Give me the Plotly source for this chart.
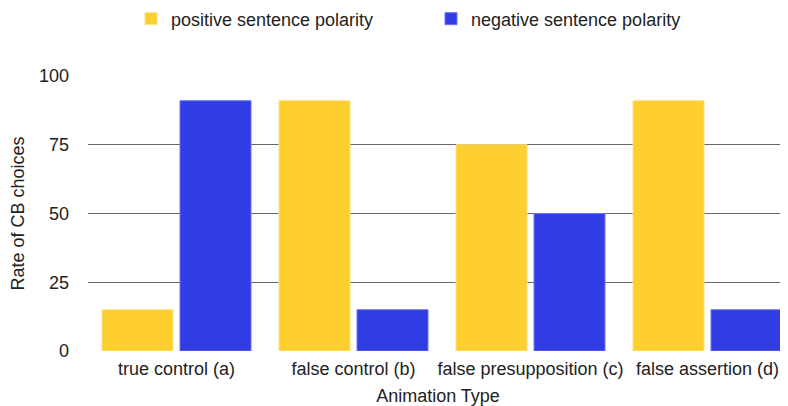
import plotly.graph_objects as go

categories = ["true control (a)", "false control (b)", "false presupposition (c)", "false assertion (d)"]
positive = [15, 91, 75, 91]
negative = [91, 15, 50, 15]
series_names = ["positive sentence polarity", "negative sentence polarity"]
y_ticks = [0, 25, 50, 75, 100]
grid_ticks = [25, 50, 75]

FONT = "Liberation Sans, Arial, Helvetica, sans-serif"

fig = go.Figure()
fig.add_trace(go.Bar(
    x=categories, y=positive, name=series_names[0],
    marker=dict(color="#FECE2F", line=dict(color="#FFE27F", width=1)),
))
fig.add_trace(go.Bar(
    x=categories, y=negative, name=series_names[1],
    marker=dict(color="#303DE5", line=dict(color="#6A74F0", width=1)),
))

# page has an 8px body margin, so figure is 780x398 offset by (8, 8)
fig.update_layout(
    width=780, height=398,
    margin=dict(l=80, r=0, t=68, b=55, autoexpand=False),
    paper_bgcolor="white", plot_bgcolor="white",
    font=dict(family=FONT, size=18, color="#222222"),
    barmode="group", bargap=0.1186, bargroupgap=0.0897,
    showlegend=True,
    legend=dict(
        orientation="h", xref="container", x=123 / 780, xanchor="left",
        yref="container", y=1 - 11 / 398, yanchor="middle",
        font=dict(size=18, color="#222222"),
        entrywidth=255, entrywidthmode="pixels",
        itemclick=False, itemdoubleclick=False,
    ),
    xaxis=dict(
        range=[-0.5, -0.5 + 700 / 177],
        showgrid=False, zeroline=False, showline=False,
        ticks="", ticklabelstandoff=5, tickfont=dict(size=18),
        title=dict(text="Animation Type", font=dict(size=18), standoff=12),
        fixedrange=True, automargin=False,
    ),
    yaxis=dict(
        range=[0, 100], tickvals=y_ticks,
        showgrid=False, zeroline=False, showline=False,
        ticks="", ticklabelstandoff=18, tickfont=dict(size=18),
        minor=dict(tickvals=grid_ticks, showgrid=True, gridcolor="#666666", gridwidth=1, ticks=""),
        title=dict(text="Rate of CB choices", font=dict(size=18), standoff=12),
        fixedrange=True, automargin=False,
    ),
)

fig.write_html("out.html")
